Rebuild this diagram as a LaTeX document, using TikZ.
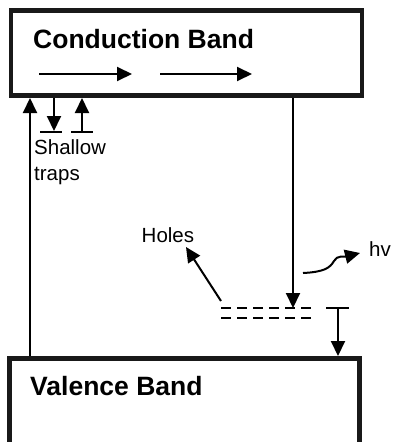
\documentclass[tikz,border=0pt]{standalone}
\usepackage{fontspec}
\setmainfont{Liberation Sans}
\usetikzlibrary{arrows.meta}
\begin{document}
\begin{tikzpicture}[x=1pt,y=-1pt,
  band/.style={draw=black!90, line width=4.5pt},
  conn/.style={line width=2pt, -{Triangle[length=15pt,width=14pt]}},
  plain/.style={line width=2pt},
  big/.style={font=\fontsize{26.5}{30}\selectfont\bfseries, inner sep=0pt, anchor=base west},
  lbl/.style={font=\fontsize{20.5}{24}\selectfont, inner sep=0pt, anchor=base west},
  lvl/.style={line width=2pt, dash pattern=on 9.5pt off 6.5pt}
]
\useasboundingbox (0,0) rectangle (394,442);
\fill[white] (0,0) rectangle (394,442);
% bands
\draw[band] (11,10.5) rectangle (362,95.5);
\draw[band] (9.5,358.5) rectangle (359.5,444);
\node[big] (cb) at (33,48) {Conduction Band};
\node[big] (vb) at (30,395) {Valence Band};
% coordinates
\coordinate (a1s) at (39,74);  \coordinate (a1e) at (132,74);
\coordinate (a2s) at (160,74); \coordinate (a2e) at (252,74);
\coordinate (exb) at (30,356); \coordinate (ext) at (30,98);
\coordinate (t1t) at (54,98);  \coordinate (t1b) at (54,131);
\coordinate (t1l) at (40,132); \coordinate (t1r) at (62,132);
\coordinate (t2b) at (82,132); \coordinate (t2t) at (82,98);
\coordinate (t2l) at (71,132); \coordinate (t2r) at (93,132);
\coordinate (rct) at (293,98); \coordinate (rcb) at (293,308);
\coordinate (d1l) at (221,308); \coordinate (d1r) at (312,308);
\coordinate (d2l) at (221,318); \coordinate (d2r) at (312,318);
\coordinate (tl) at (326,308); \coordinate (tr) at (349,308);
\coordinate (tm) at (338,308); \coordinate (tv) at (338,356);
\coordinate (hs) at (221,301); \coordinate (he) at (186,247);
\coordinate (ws) at (303,273); \coordinate (wm) at (334,261); \coordinate (we) at (360,253);
% arrows in conduction band
\draw[conn] (a1s) -- (a1e);
\draw[conn] (a2s) -- (a2e);
% excitation
\draw[conn] (exb) -- (ext);
% shallow traps
\draw[conn] (t1t) -- (t1b);
\draw[plain] (t1l) -- (t1r);
\draw[conn] (t2b) -- (t2t);
\draw[plain] (t2l) -- (t2r);
\node[lbl] (sh) at (34,154) {Shallow};
\node[lbl] (tp) at (34,180.5) {traps};
% recombination
\draw[conn] (rct) -- (rcb);
\draw[lvl] (d1l) -- (d1r);
\draw[lvl] (d2l) -- (d2r);
\draw[plain] (tl) -- (tr);
\draw[conn] (tm) -- (tv);
% holes
\draw[conn] (hs) -- (he);
\node[lbl] (ho) at (141.5,242) {Holes};
% photon
\draw[conn] (ws) .. controls (324,272) and (330,268) .. (wm) .. controls (337,255) and (344,257) .. (we);
\node[lbl] (hv) at (369,256.5) {hv};
\end{tikzpicture}
\end{document}
